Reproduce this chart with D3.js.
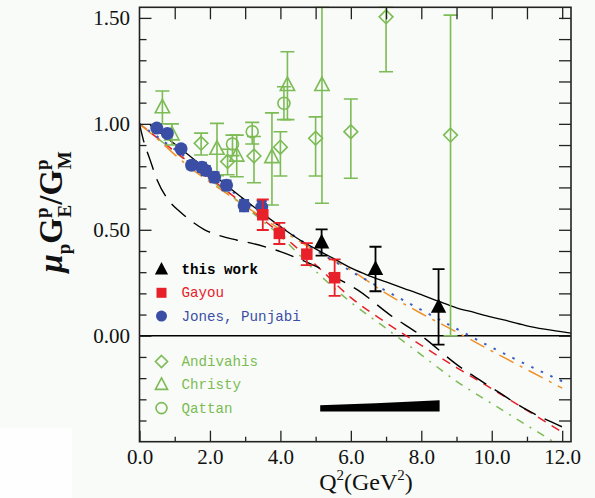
<!DOCTYPE html>
<html><head><meta charset="utf-8">
<script src="https://cdn.jsdelivr.net/npm/d3@7"></script>
<style>
html,body{margin:0;padding:0;background:#f8fbf7;}
svg{display:block;}
</style></head>
<body>
<svg id="chart" width="595" height="498"></svg>
<script>
// ---------------- data ----------------
const xTickMajor = [0, 2, 4, 6, 8, 10, 12];
const xTickLabels = ["0.0","2.0","4.0","6.0","8.0","10.0","12.0"];
const yTickMajor = [0, 0.5, 1.0, 1.5];
const yTickLabels = ["0.00","0.50","1.00","1.50"];

// this work (black filled triangles)
const thisQ = [5.17, 6.70, 8.49];
const thisR = [0.440, 0.315, 0.136];
const thisErr = [0.062, 0.105, 0.178];

// Gayou (red squares)
const gayouQ = [3.50, 3.97, 4.75, 5.54];
const gayouR = [0.571, 0.483, 0.385, 0.274];
const gayouErr = [0.072, 0.050, 0.052, 0.086];

// Jones, Punjabi (blue circles)
const jonesQ = [0.49, 0.79, 1.18, 1.48, 1.77, 1.88, 2.13, 2.47, 2.97, 3.47];
const jonesR = [0.980, 0.955, 0.882, 0.805, 0.795, 0.780, 0.748, 0.710, 0.614, 0.607];
const jonesErr = [0.012, 0.013, 0.014, 0.018, 0.02, 0.02, 0.022, 0.022, 0.025, 0.03];

// Andivahis (open diamonds)
const andiQ = [1.75, 2.50, 3.25, 4.00, 5.00, 6.00, 7.00, 8.83];
const andiR = [0.908, 0.822, 0.848, 0.890, 0.932, 0.963, 1.505, 0.947];
const andiLo = [0.853, 0.760, 0.722, 0.754, 0.754, 0.743, 1.246, 0.000];
const andiHi = [0.956, 0.880, 0.940, 0.963, 1.033, 1.117, 1.550, 1.513];

// Christy (open triangles)
const christyQ = [0.65, 0.92, 2.20, 2.76, 3.76, 4.20, 5.18];
const christyR = [1.078, 0.950, 0.882, 0.850, 0.843, 1.183, 1.183];
const christyLo = [1.000, 0.900, 0.755, 0.750, 0.617, 1.020, 0.625];
const christyHi = [1.155, 1.000, 1.002, 0.947, 1.052, 1.340, 1.550];

// Qattan (open circles)
const qattanQ = [2.64, 3.20, 4.10];
const qattanR = [0.905, 0.963, 1.097];
const qattanLo = [0.850, 0.905, 1.020];
const qattanHi = [0.947, 1.007, 1.175];

// theory curves
const solidQ = [0.3, 1.0, 2.0, 3.0, 4.0, 4.5, 5.0, 5.5, 6.0, 6.5, 7.0, 7.5, 8.0, 8.5, 9.0, 9.5, 10.0, 10.5, 11.0, 11.5, 12.25];
const solidR = [0.995, 0.905, 0.772, 0.640, 0.515, 0.458, 0.410, 0.365, 0.320, 0.284, 0.254, 0.224, 0.194, 0.162, 0.132, 0.110, 0.088, 0.068, 0.047, 0.031, 0.012];

const dashQ = [0.0, 0.1, 0.3, 0.5, 0.8, 1.15, 1.5, 1.85, 2.25, 2.75, 3.2, 3.7, 4.0, 4.5, 5.0, 5.6, 6.2, 7.1, 8.0, 9.0, 10.0, 11.0, 12.0];
const dashR = [1.0, 0.93, 0.83, 0.735, 0.645, 0.585, 0.538, 0.500, 0.474, 0.452, 0.436, 0.413, 0.397, 0.365, 0.328, 0.272, 0.215, 0.100, 0.0, -0.135, -0.245, -0.350, -0.430];

const blueQ = [0, 1, 2, 3, 4, 5, 6, 7, 8, 9, 10, 11, 12];
const blueR = [1.0, 0.88, 0.76, 0.635, 0.515, 0.405, 0.305, 0.212, 0.122, 0.033, -0.055, -0.137, -0.215];

const orangeQ = [0, 0.5, 1, 1.5, 2, 3, 4, 5, 6, 7, 8, 9, 10, 11, 12];
const orangeR = [1.0, 0.93, 0.855, 0.785, 0.725, 0.612, 0.502, 0.400, 0.310, 0.200, 0.105, 0.018, -0.072, -0.160, -0.247];

const redQ = [0, 1, 2, 3, 4, 5, 6, 7, 8, 9, 10, 11, 12];
const redR = [1.0, 0.87, 0.745, 0.615, 0.482, 0.335, 0.180, 0.062, -0.045, -0.150, -0.250, -0.352, -0.455];

const greenQ = [0, 1, 2, 3, 4, 5, 6, 7, 8, 9, 10, 11, 12];
const greenR = [1.0, 0.868, 0.738, 0.608, 0.470, 0.305, 0.158, 0.035, -0.090, -0.215, -0.320, -0.423, -0.525];

// systematic error band
const sysQ = [5.13, 6.70, 8.52];
const sysTop = [-0.328, -0.318, -0.304];
const sysBottom = [-0.357, -0.357, -0.357];

// legend
const legendTop = [["this work","#000","triF"],["Gayou","#e8202a","sq"],["Jones, Punjabi","#3b4ea6","circF"]];
const legendBottom = [["Andivahis","#7cbb55","dia"],["Christy","#7cbb55","triO"],["Qattan","#7cbb55","circO"]];

// ---------------- drawing ----------------
const svg = d3.select("#chart");
const X0 = 139.5, X1 = 571, Y0 = 441.7, Y1 = 7.3;
const x = d3.scaleLinear().domain([0, 12.25]).range([X0, X1]);
const y = d3.scaleLinear().domain([-0.5, 1.55]).range([Y0, Y1]);

const GREEN = "#7cbb55", RED = "#e8202a", BLUE = "#3b4ea6";

svg.append("rect").attr("x",0).attr("y",428).attr("width",72).attr("height",70).attr("fill","#fdfefd");

svg.append("defs").append("clipPath").attr("id","clip")
  .append("rect").attr("x",X0).attr("y",Y1-1).attr("width",X1-X0).attr("height",Y0-Y1+1);

const plot = svg.append("g").attr("clip-path","url(#clip)");

// zero line
plot.append("line").attr("x1",X0).attr("x2",X1).attr("y1",y(0)).attr("y2",y(0))
  .attr("stroke","#000").attr("stroke-width",1.3);

// sys band
const zip = (a,b)=>a.map((v,i)=>[v,b[i]]);
plot.append("path")
  .datum(sysQ.map((q,i)=>({q, t:sysTop[i], b:sysBottom[i]})))
  .attr("d", d3.area().x(d=>x(d.q)).y0(d=>y(d.b)).y1(d=>y(d.t)))
  .attr("fill","#000");

// curves
const line = d3.line().x(d=>x(d[0])).y(d=>y(d[1])).curve(d3.curveMonotoneX);
function curve(q, r, color, dash, w){
  plot.append("path").datum(zip(q,r)).attr("d",line)
    .attr("fill","none").attr("stroke",color).attr("stroke-width",w||1.5)
    .attr("stroke-dasharray",dash||null);
}
curve(greenQ, greenR, GREEN, "8,7,2,7", 1.5);
curve(redQ, redR, RED, "9,7", 1.5);
curve(orangeQ, orangeR, "#f0902a", "16,7,3,7", 1.5);
curve(blueQ, blueR, "#3a5cc8", "2.5,8", 2);
curve(dashQ, dashR, "#000", "19,10", 1.4);
curve(solidQ, solidR, "#000", null, 1.3);

// error bars helper
function errbars(g, q, lo, hi, color, capW, w){
  q.forEach((qq,i)=>{
    const cx = x(qq);
    g.append("line").attr("x1",cx).attr("x2",cx).attr("y1",y(lo[i])).attr("y2",y(hi[i]))
      .attr("stroke",color).attr("stroke-width",w);
    [lo[i],hi[i]].forEach(v=>{
      g.append("line").attr("x1",cx-capW).attr("x2",cx+capW).attr("y1",y(v)).attr("y2",y(v))
        .attr("stroke",color).attr("stroke-width",w);
    });
  });
}

// symbol helpers
function sym(g, type, cx, cy, color, s){
  if(type==="triF"){
    g.append("path").attr("d",`M${cx},${cy-s*0.62} L${cx+s*0.55},${cy+s*0.42} L${cx-s*0.55},${cy+s*0.42} Z`).attr("fill",color);
  } else if(type==="triO"){
    g.append("path").attr("d",`M${cx},${cy-s*0.62} L${cx+s*0.55},${cy+s*0.42} L${cx-s*0.55},${cy+s*0.42} Z`)
      .attr("fill","none").attr("stroke",color).attr("stroke-width",1.6);
  } else if(type==="sq"){
    g.append("rect").attr("x",cx-s/2).attr("y",cy-s/2).attr("width",s).attr("height",s).attr("fill",color);
  } else if(type==="circF"){
    g.append("circle").attr("cx",cx).attr("cy",cy).attr("r",s/2).attr("fill",color);
  } else if(type==="circO"){
    g.append("circle").attr("cx",cx).attr("cy",cy).attr("r",s/2).attr("fill","none").attr("stroke",color).attr("stroke-width",1.6);
  } else if(type==="dia"){
    const h=s*0.55;
    g.append("path").attr("d",`M${cx},${cy-h} L${cx+h},${cy} L${cx},${cy+h} L${cx-h},${cy} Z`)
      .attr("fill","none").attr("stroke",color).attr("stroke-width",1.6);
  }
}

// green data
errbars(plot, andiQ, andiLo, andiHi, GREEN, 7, 1.6);
errbars(plot, christyQ, christyLo, christyHi, GREEN, 7, 1.6);
errbars(plot, qattanQ, qattanLo, qattanHi, GREEN, 7, 1.6);
andiQ.forEach((q,i)=>sym(plot,"dia",x(q),y(andiR[i]),GREEN,12.5));
christyQ.forEach((q,i)=>sym(plot,"triO",x(q),y(christyR[i]),GREEN,13));
qattanQ.forEach((q,i)=>sym(plot,"circO",x(q),y(qattanR[i]),GREEN,12));

// blue
errbars(plot, jonesQ, jonesQ.map((q,i)=>jonesR[i]-jonesErr[i]), jonesQ.map((q,i)=>jonesR[i]+jonesErr[i]), BLUE, 5, 2.5);
jonesQ.forEach((q,i)=>sym(plot,"circF",x(q),y(jonesR[i]),BLUE,13));

// red
errbars(plot, gayouQ, gayouQ.map((q,i)=>gayouR[i]-gayouErr[i]), gayouQ.map((q,i)=>gayouR[i]+gayouErr[i]), RED, 6, 1.8);
gayouQ.forEach((q,i)=>sym(plot,"sq",x(q),y(gayouR[i]),RED,11.5));

// black
errbars(plot, thisQ, thisQ.map((q,i)=>thisR[i]-thisErr[i]), thisQ.map((q,i)=>thisR[i]+thisErr[i]), "#000", 6, 1.8);
thisQ.forEach((q,i)=>sym(plot,"triF",x(q),y(thisR[i]),"#000",14));

// ---------------- axes ----------------
const tickFont = "'Liberation Serif','Times New Roman',serif";
const axLeft = svg.append("g").attr("transform",`translate(${X0},0)`)
  .call(d3.axisLeft(y).tickValues(yTickMajor).tickSize(-12).tickPadding(9.5)
    .tickFormat((d,i)=>yTickLabels[i]));
const axLeftMinor = svg.append("g").attr("transform",`translate(${X0},0)`)
  .call(d3.axisLeft(y).tickValues(d3.range(-4,16).map(v=>v/10).filter(v=>Math.abs(v*2-Math.round(v*2))>1e-6)).tickSize(-7).tickFormat(""));
const axBottom = svg.append("g").attr("transform",`translate(0,${Y0})`)
  .call(d3.axisBottom(x).tickValues(xTickMajor).tickSize(-11).tickPadding(7)
    .tickFormat((d,i)=>xTickLabels[i]));
const axBottomMinor = svg.append("g").attr("transform",`translate(0,${Y0})`)
  .call(d3.axisBottom(x).tickValues([1,3,5,7,9,11]).tickSize(-5).tickFormat(""));
const axTop = svg.append("g").attr("transform",`translate(0,${Y1})`)
  .call(d3.axisTop(x).tickValues(d3.range(1,13)).tickSize(-12).tickFormat(""));
const axRight = svg.append("g").attr("transform",`translate(${X1},0)`)
  .call(d3.axisRight(y).tickValues(d3.range(-4,16).map(v=>v/10)).tickSize(-12).tickFormat(""));

[axLeft,axLeftMinor,axBottom,axBottomMinor,axTop,axRight].forEach(g=>{
  g.select(".domain").remove();
  g.selectAll(".tick line").attr("stroke","#222").attr("stroke-width",1.3);
  g.selectAll(".tick text").attr("font-family",tickFont).attr("font-size",21).attr("fill","#111");
});

svg.append("rect").attr("x",X0).attr("y",Y1).attr("width",X1-X0).attr("height",Y0-Y1)
  .attr("fill","none").attr("stroke","#222").attr("stroke-width",1.6);

// axis titles
const xt = svg.append("text").attr("x",366).attr("y",490).attr("text-anchor","middle")
  .attr("font-family",tickFont).attr("font-size",24).attr("fill","#111");
xt.append("tspan").text("Q");
xt.append("tspan").attr("font-size",15).attr("dy",-10).text("2");
xt.append("tspan").attr("dy",10).text("(GeV");
xt.append("tspan").attr("font-size",15).attr("dy",-10).text("2");
xt.append("tspan").attr("dy",10).text(")");

const yt = svg.append("text").attr("transform","translate(62,212) rotate(-90)").attr("text-anchor","middle")
  .attr("font-family",tickFont).attr("font-size",33).attr("font-weight","bold").attr("fill","#111");
yt.append("tspan").attr("font-style","italic").text("μ");
yt.append("tspan").attr("font-size",19).attr("dy",8).text("p");
yt.append("tspan").attr("dy",-8).text("G");
yt.append("tspan").attr("font-size",19).attr("dy",-14).text("p");
yt.append("tspan").attr("font-size",19).attr("dx",-10).attr("dy",23).text("E");
yt.append("tspan").attr("dy",-9).text("/G");
yt.append("tspan").attr("font-size",19).attr("dy",-14).text("p");
yt.append("tspan").attr("font-size",19).attr("dx",-10).attr("dy",23).text("M");

// legend
const lg = svg.append("g");
const legFont = "'Liberation Mono','Courier New',monospace";
legendTop.forEach((d,i)=>{
  const cy = 269.5 + i*23.3;
  sym(lg, d[2], 161.5, cy, d[1], d[2]==="triF"?12:(d[2]==="sq"?10:11));
  lg.append("text").attr("x",181.5).attr("y",cy+4.5).attr("font-family",legFont).attr("font-size",14.2)
    .attr("font-weight", i===0?"bold":"normal").attr("fill",d[1]).text(d[0]);
});
legendBottom.forEach((d,i)=>{
  const cy = 361.5 + i*23.3;
  sym(lg, d[2], 161.5, cy, d[1], 11);
  lg.append("text").attr("x",181.5).attr("y",cy+4.5).attr("font-family",legFont).attr("font-size",14.2)
    .attr("fill",d[1]).text(d[0]);
});
</script>
</body></html>
